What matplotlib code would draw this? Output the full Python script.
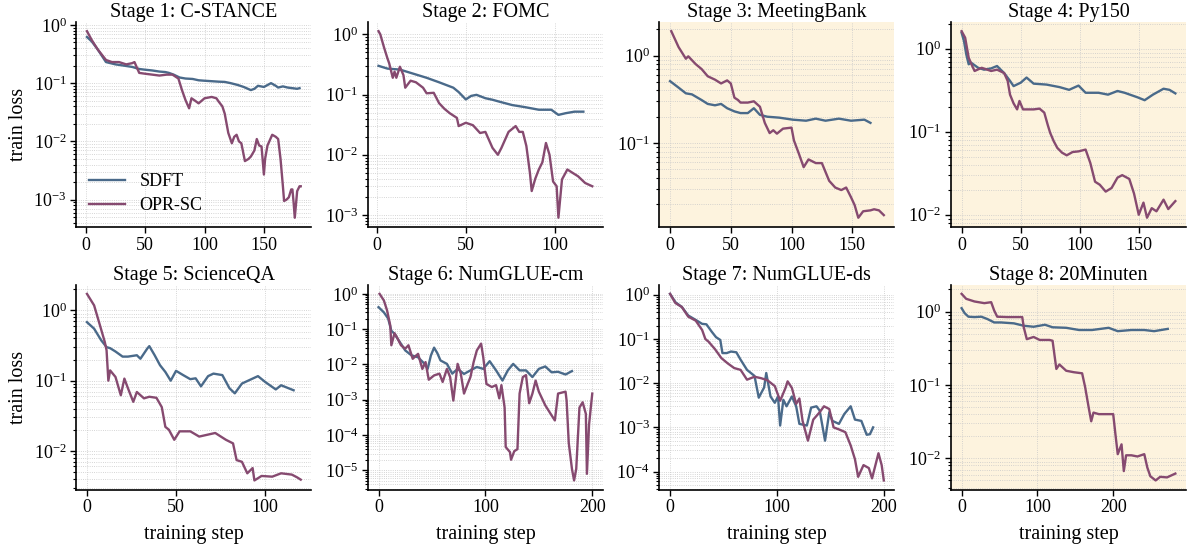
import matplotlib
matplotlib.use("Agg")
import matplotlib.pyplot as plt
from matplotlib.ticker import LogLocator, NullFormatter
import numpy as np

plt.rcParams['font.family'] = ['Liberation Serif', 'DejaVu Serif']
plt.rcParams['mathtext.fontset'] = 'stix'

titles = ["Stage 1: C-STANCE", "Stage 2: FOMC", "Stage 3: MeetingBank", "Stage 4: Py150",
          "Stage 5: ScienceQA", "Stage 6: NumGLUE-cm", "Stage 7: NumGLUE-ds", "Stage 8: 20Minuten"]
highlighted = [3, 4, 8]

# ---- Stage 1 ----
s1_sdft_x = [1, 5, 10, 17, 25, 32, 39, 45, 50, 56, 62, 67, 70, 74, 79, 84, 90, 95, 100, 106, 112, 117,
             122, 128, 133, 139, 142, 145, 150, 156, 160, 162, 166, 170, 174, 178, 180]
s1_sdft_y = [0.62, 0.52, 0.38, 0.23, 0.21, 0.20, 0.19, 0.175, 0.17, 0.165, 0.158, 0.155, 0.15, 0.14, 0.125,
             0.12, 0.118, 0.112, 0.11, 0.108, 0.106, 0.105, 0.10, 0.093, 0.086, 0.076, 0.08, 0.09, 0.086,
             0.10, 0.09, 0.084, 0.088, 0.084, 0.082, 0.08, 0.082]
s1_opr_x = [1, 5, 10, 17, 22, 28, 34, 39, 41, 45, 50, 56, 62, 68, 73, 78, 81, 84, 87, 89, 92, 95, 100,
            106, 110, 112, 115, 117, 120, 123, 125, 127, 129, 131, 134, 137, 139, 142, 144, 146, 148, 150,
            151, 153, 157, 160, 162, 164, 166, 167, 169, 171, 173, 174, 175, 176, 178, 180, 181]
s1_opr_y = [0.78, 0.55, 0.38, 0.25, 0.23, 0.23, 0.21, 0.22, 0.23, 0.15, 0.145, 0.14, 0.135, 0.14, 0.14,
            0.12, 0.076, 0.051, 0.037, 0.055, 0.05, 0.045, 0.055, 0.058, 0.055, 0.048, 0.04, 0.030, 0.014,
            0.0093, 0.012, 0.013, 0.010, 0.0093, 0.0046, 0.005, 0.0055, 0.007, 0.011, 0.0085, 0.0082,
            0.0027, 0.005, 0.0085, 0.013, 0.012, 0.011, 0.005, 0.0017, 0.00095, 0.001, 0.0011, 0.0015,
            0.0015, 0.0009, 0.00049, 0.0014, 0.0017, 0.0017]

# ---- Stage 2 ----
s2_sdft_x = [1, 6, 13, 21, 28, 35, 43, 46, 50, 53, 56, 61, 65, 69, 76, 83, 91, 98, 102, 106, 111, 116]
s2_sdft_y = [0.30, 0.27, 0.26, 0.22, 0.19, 0.16, 0.13, 0.11, 0.083, 0.095, 0.099, 0.087, 0.082, 0.076,
             0.067, 0.062, 0.056, 0.056, 0.046, 0.049, 0.052, 0.052]
s2_opr_x = [1, 2, 4, 6, 7, 9, 10, 11, 13, 15, 16, 19, 22, 26, 28, 32, 35, 38, 41, 45, 46, 50, 54, 58,
            61, 65, 68, 70, 74, 78, 80, 82, 84, 86, 87, 89, 91, 93, 95, 97, 99, 101, 102, 104, 106, 107,
            110, 113, 117, 121]
s2_opr_y = [1.13, 1.0, 0.62, 0.40, 0.33, 0.19, 0.24, 0.19, 0.29, 0.21, 0.13, 0.17, 0.16, 0.13, 0.105,
            0.107, 0.072, 0.058, 0.049, 0.041, 0.030, 0.034, 0.031, 0.023, 0.024, 0.013, 0.010, 0.013,
            0.024, 0.030, 0.024, 0.024, 0.014, 0.005, 0.0025, 0.004, 0.0057, 0.0075, 0.0157, 0.010,
            0.0036, 0.003, 0.0009, 0.0039, 0.005, 0.0057, 0.005, 0.0044, 0.0034, 0.003]

# ---- Stage 3 ----
s3_sdft_x = [0, 7, 13, 18, 26, 31, 37, 42, 47, 53, 58, 64, 69, 74, 80, 90, 101, 112, 120, 128, 139,
             149, 160, 165]
s3_sdft_y = [0.51, 0.43, 0.37, 0.36, 0.31, 0.28, 0.27, 0.28, 0.25, 0.23, 0.22, 0.22, 0.25, 0.21, 0.20,
             0.195, 0.185, 0.18, 0.19, 0.18, 0.19, 0.18, 0.185, 0.17]
s3_opr_x = [1, 7, 13, 15, 21, 26, 31, 37, 42, 47, 50, 53, 56, 58, 64, 69, 74, 78, 82, 85, 88, 93, 100,
            102, 106, 110, 114, 120, 125, 131, 136, 141, 145, 149, 152, 155, 159, 165, 168, 172, 176]
s3_opr_y = [1.9, 1.25, 0.92, 0.98, 0.80, 0.70, 0.58, 0.53, 0.48, 0.52, 0.48, 0.33, 0.31, 0.29, 0.29,
            0.30, 0.26, 0.17, 0.13, 0.14, 0.128, 0.146, 0.15, 0.107, 0.076, 0.053, 0.065, 0.059, 0.059,
            0.037, 0.031, 0.029, 0.031, 0.024, 0.0195, 0.014, 0.0166, 0.017, 0.0175, 0.017, 0.015]

# ---- Stage 4 ----
s4_sdft_x = [0, 2, 4, 6, 8, 14, 19, 25, 30, 36, 41, 44, 50, 55, 61, 72, 83, 91, 99, 105, 116, 124, 132,
             138, 149, 155, 162, 171, 176, 181]
s4_sdft_y = [1.56, 1.24, 0.85, 0.65, 0.68, 0.59, 0.56, 0.58, 0.62, 0.51, 0.41, 0.355, 0.39, 0.45, 0.38,
             0.37, 0.345, 0.32, 0.36, 0.295, 0.295, 0.28, 0.31, 0.295, 0.26, 0.24, 0.28, 0.33, 0.32, 0.29]
s4_opr_x = [0, 3, 6, 9, 11, 17, 25, 30, 36, 39, 41, 44, 47, 49, 52, 61, 66, 70, 73, 75, 78, 81, 85, 89,
            94, 99, 105, 109, 113, 117, 122, 127, 132, 136, 142, 146, 150, 154, 157, 161, 165, 171, 175,
            181]
s4_opr_y = [1.63, 1.36, 0.78, 0.62, 0.54, 0.59, 0.54, 0.56, 0.51, 0.41, 0.28, 0.22, 0.186, 0.235, 0.186,
            0.186, 0.19, 0.17, 0.12, 0.097, 0.077, 0.064, 0.056, 0.052, 0.057, 0.058, 0.061, 0.042, 0.025,
            0.023, 0.019, 0.021, 0.028, 0.030, 0.027, 0.018, 0.010, 0.014, 0.0092, 0.012, 0.011, 0.0152,
            0.0117, 0.0146]

# ---- Stage 5 ----
s5_sdft_x = [0, 4, 8, 11, 13, 16, 20, 23, 28, 30, 34, 35, 38, 41, 44, 47, 50, 54, 58, 61, 64, 68, 71, 76,
             80, 83, 87, 93, 96, 100, 106, 109, 116]
s5_sdft_y = [0.68, 0.55, 0.375, 0.30, 0.29, 0.26, 0.22, 0.22, 0.23, 0.205, 0.29, 0.31, 0.23, 0.166, 0.133,
             0.10, 0.138, 0.12, 0.105, 0.108, 0.083, 0.116, 0.126, 0.12, 0.078, 0.066, 0.091, 0.107, 0.116,
             0.096, 0.075, 0.086, 0.073]
s5_opr_x = [0, 4, 7, 10, 11, 12, 13, 16, 19, 21, 23, 26, 28, 32, 35, 39, 42, 44, 46, 49, 52, 58, 63, 72,
            78, 82, 84, 87, 90, 93, 94, 98, 104, 109, 115, 118, 120]
s5_opr_y = [1.72, 1.18, 0.65, 0.355, 0.27, 0.10, 0.14, 0.113, 0.062, 0.107, 0.078, 0.05, 0.069, 0.056,
            0.059, 0.057, 0.042, 0.022, 0.020, 0.0144, 0.019, 0.019, 0.016, 0.018, 0.0144, 0.0128, 0.0074,
            0.007, 0.0048, 0.0057, 0.0038, 0.0044, 0.0043, 0.0048, 0.0046, 0.0042, 0.0039]

# ---- Stage 6 ----
s6_sdft_x = [0, 5, 9, 12, 15, 18, 25, 31, 37, 43, 46, 49, 52, 55, 58, 64, 69, 74, 80, 86, 92, 98, 104,
             110, 116, 121, 126, 132, 138, 144, 150, 156, 162, 168, 175, 181]
s6_sdft_y = [0.42, 0.30, 0.2, 0.09, 0.074, 0.053, 0.025, 0.018, 0.016, 0.0105, 0.0075, 0.018, 0.03, 0.021,
             0.013, 0.0104, 0.0055, 0.0075, 0.0054, 0.0068, 0.0085, 0.0075, 0.0124, 0.0068, 0.0035, 0.0068,
             0.0104, 0.0068, 0.0068, 0.0044, 0.0075, 0.0088, 0.006, 0.0062, 0.0052, 0.0065]
s6_opr_x = [1, 5, 8, 11, 12, 15, 18, 21, 25, 28, 32, 37, 41, 44, 47, 52, 57, 60, 64, 67, 70, 74, 77, 80,
            83, 86, 89, 92, 96, 98, 101, 106, 110, 113, 115, 118, 119, 123, 124, 127, 130, 132, 135, 138,
            141, 144, 147, 150, 156, 162, 165, 168, 175, 176, 178, 181, 183, 185, 188, 191, 194, 195, 197,
            200]
s6_opr_y = [1.0, 0.65, 0.34, 0.127, 0.035, 0.077, 0.053, 0.035, 0.028, 0.035, 0.0145, 0.02, 0.0075,
            0.0117, 0.0037, 0.0049, 0.0055, 0.0032, 0.0075, 0.0044, 0.00095, 0.0104, 0.0055, 0.0015,
            0.0026, 0.0044, 0.0117, 0.025, 0.039, 0.016, 0.0028, 0.0023, 0.0026, 0.0011, 0.0026, 0.0006,
            4.6e-5, 3.3e-5, 2e-5, 3.5e-5, 4e-5, 0.0015, 0.0044, 0.005, 0.0008, 0.0015, 0.0035, 0.0017,
            0.0007, 0.00036, 0.00026, 0.0015, 0.0017, 0.00095, 6e-5, 1.1e-5, 5.2e-6, 1.1e-5, 0.0006,
            0.00085, 0.0004, 8e-6, 0.0002, 0.0015]

# ---- Stage 7 ----
s7_sdft_x = [0, 5, 11, 17, 24, 30, 34, 39, 43, 47, 49, 53, 57, 62, 66, 72, 79, 83, 88, 90, 94, 98, 101,
             103, 106, 109, 114, 118, 121, 128, 132, 137, 140, 145, 149, 152, 158, 163, 169, 173, 179, 184,
             187, 190]
s7_sdft_y = [1.05, 0.68, 0.53, 0.34, 0.27, 0.22, 0.215, 0.146, 0.11, 0.095, 0.048, 0.048, 0.052, 0.05,
             0.034, 0.020, 0.0146, 0.0047, 0.008, 0.017, 0.005, 0.0036, 0.005, 0.0011, 0.0042, 0.0030,
             0.005, 0.0030, 0.0012, 0.0011, 0.0028, 0.003, 0.0024, 0.0005, 0.0022, 0.0014, 0.0012, 0.002,
             0.003, 0.0015, 0.0014, 0.00068, 0.0007, 0.001]
s7_opr_x = [0, 5, 11, 17, 24, 30, 33, 36, 42, 48, 54, 60, 66, 72, 79, 85, 91, 98, 103, 108, 110, 114,
            118, 121, 124, 129, 134, 140, 144, 149, 153, 158, 164, 169, 173, 176, 181, 186, 189, 195, 198,
            200]
s7_opr_y = [1.05, 0.65, 0.53, 0.32, 0.26, 0.16, 0.10, 0.087, 0.059, 0.037, 0.028, 0.022, 0.020, 0.012,
            0.014, 0.013, 0.0117, 0.0086, 0.004, 0.0078, 0.011, 0.0078, 0.0034, 0.0045, 0.0014, 0.0005,
            0.0015, 0.0022, 0.003, 0.0026, 0.001, 0.0009, 0.00078, 0.00039, 0.00019, 7.6e-5, 0.00014,
            0.00012, 7e-5, 0.00026, 0.00014, 6.3e-5]

# ---- Stage 8 ----
s8_sdft_x = [0, 4, 9, 17, 26, 34, 43, 52, 69, 82, 95, 110, 120, 138, 155, 172, 194, 206, 224, 241, 254,
             272]
s8_sdft_y = [1.11, 0.95, 0.85, 0.84, 0.85, 0.79, 0.71, 0.71, 0.69, 0.64, 0.62, 0.66, 0.61, 0.6, 0.56,
             0.56, 0.6, 0.54, 0.56, 0.56, 0.54, 0.58]
s8_opr_x = [0, 6, 17, 30, 39, 43, 47, 60, 73, 80, 82, 86, 95, 103, 116, 120, 125, 129, 138, 148, 159,
            163, 168, 171, 174, 181, 189, 200, 203, 206, 211, 214, 217, 224, 232, 241, 245, 249, 256, 262,
            271, 282]
s8_opr_y = [1.74, 1.49, 1.37, 1.3, 1.34, 1.03, 0.85, 0.84, 0.84, 0.84, 0.61, 0.42, 0.45, 0.41, 0.41, 0.40,
            0.165, 0.19, 0.156, 0.149, 0.144, 0.093, 0.047, 0.032, 0.042, 0.040, 0.040, 0.040, 0.021,
            0.0114, 0.0155, 0.0067, 0.011, 0.011, 0.0106, 0.0114, 0.0075, 0.0057, 0.0050, 0.0056, 0.0055,
            0.0062]

series = [
    (s1_sdft_x, s1_sdft_y, s1_opr_x, s1_opr_y),
    (s2_sdft_x, s2_sdft_y, s2_opr_x, s2_opr_y),
    (s3_sdft_x, s3_sdft_y, s3_opr_x, s3_opr_y),
    (s4_sdft_x, s4_sdft_y, s4_opr_x, s4_opr_y),
    (s5_sdft_x, s5_sdft_y, s5_opr_x, s5_opr_y),
    (s6_sdft_x, s6_sdft_y, s6_opr_x, s6_opr_y),
    (s7_sdft_x, s7_sdft_y, s7_opr_x, s7_opr_y),
    (s8_sdft_x, s8_sdft_y, s8_opr_x, s8_opr_y),
]

c_sdft = '#4A6A8A'
c_opr = '#864A70'
bg_hl = '#FDF3DE'

fig, axes = plt.subplots(2, 4, figsize=(11.92, 5.46), dpi=100)
fig.subplots_adjust(left=0.064, right=0.995, top=0.96, bottom=0.103, wspace=0.24, hspace=0.28)

for i, ax in enumerate(axes.flat):
    sx, sy, ox, oy = series[i]
    ax.plot(sx, sy, color=c_sdft, lw=1.7, label='SDFT')
    ax.plot(ox, oy, color=c_opr, lw=1.7, label='OPR-SC')
    ax.set_yscale('log')
    ax.yaxis.set_major_locator(LogLocator(base=10, numticks=20))
    ax.yaxis.set_minor_locator(LogLocator(base=10, subs=np.arange(2, 10), numticks=100))
    ax.yaxis.set_minor_formatter(NullFormatter())
    ax.set_title(titles[i], fontsize=14.5, pad=3)
    if (i + 1) in highlighted:
        ax.set_facecolor(bg_hl)
    ax.grid(True, which='both', linestyle=':', linewidth=0.6, color='#c8c8c8')
    ax.set_axisbelow(True)
    for s in ['top', 'right']:
        ax.spines[s].set_visible(False)
    for s in ['left', 'bottom']:
        ax.spines[s].set_linewidth(1.2)
    ax.tick_params(axis='both', which='major', labelsize=13, length=4, width=1, pad=3)
    ax.tick_params(axis='y', which='minor', length=2.5, width=0.8)
    if i % 4 == 0:
        ax.set_ylabel('train loss', fontsize=14.5, labelpad=4)
    if i >= 4:
        ax.set_xlabel('training step', fontsize=14.5, labelpad=6)

axes[0, 0].legend(loc='lower left', frameon=False, fontsize=13, handlelength=2.0,
                  borderaxespad=0.3, labelspacing=0.4)

fig.savefig('out.png', dpi=100)
